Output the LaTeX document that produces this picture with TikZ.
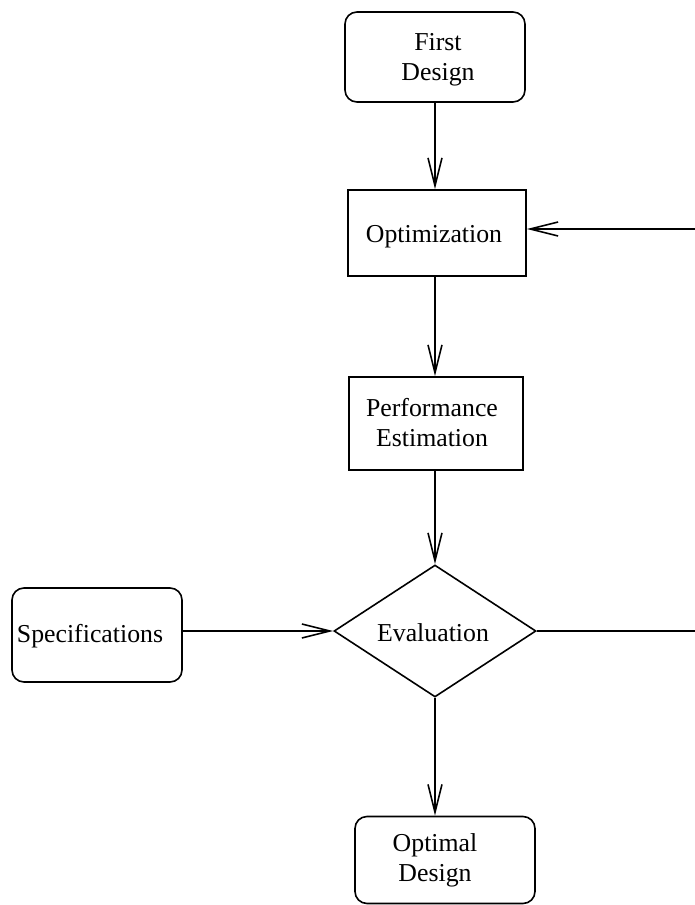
\documentclass[tikz,border=0pt]{standalone}
\usepackage{fontspec}
\setmainfont{Liberation Serif}
\usetikzlibrary{arrows.meta,shapes.geometric}
\begin{document}
\begin{tikzpicture}[x=1pt,y=-1pt,
  every node/.style={font=\fontsize{25.8}{30}\selectfont, align=center, inner sep=0pt},
  box/.style={draw, line width=1.6pt, minimum width=#1},
  rbox/.style={draw, line width=1.6pt, rounded corners=12pt},
  link/.style={line width=1.6pt, -{Straight Barb[length=28pt,width=14pt,line width=1.6pt]}},
  plain/.style={line width=1.6pt}]
\useasboundingbox (0,0) rectangle (694,905);
% boxes
\node[rbox, minimum width=180pt, minimum height=90pt] (first) at (435,57) {};
\node (firstt) at (438,60) {First\\Design};
\node[box=178pt, minimum height=86pt] (opt) at (437,233) {};
\node (optt) at (434,237) {Optimization};
\node[box=174pt, minimum height=93pt] (perf) at (436,423.5) {};
\node (perft) at (432,423) {Performance\\Estimation};
\node[draw, line width=1.6pt, diamond, minimum width=202pt, minimum height=132pt] (eval) at (435,631) {};
\node (evalt) at (433,633) {Evaluation};
\node[rbox, minimum width=170pt, minimum height=94pt] (spec) at (97,635) {};
\node (spect) at (90,636) {Specifications};
\node[rbox, minimum width=180pt, minimum height=87pt] (optd) at (445,860) {};
\node (optdt) at (435,860) {Optimal\\Design};
\coordinate (c1) at (697,631);
\coordinate (c2) at (697,229);
% connectors
\draw[link] (first.south -| 435,0) -- (opt.north -| 435,0);
\draw[link] (opt.south -| 435,0) -- (perf.north -| 435,0);
\draw[link] (perf.south -| 435,0) -- (eval.north);
\draw[link] (eval.south) -- (optd.north -| 435,0);
\draw[link] (spec.east |- 0,631) -- (eval.west);
\draw[plain] (eval.east) -- (c1) -- (c2);
\draw[link] (c2) -- (opt.east |- c2);
\end{tikzpicture}
\end{document}
